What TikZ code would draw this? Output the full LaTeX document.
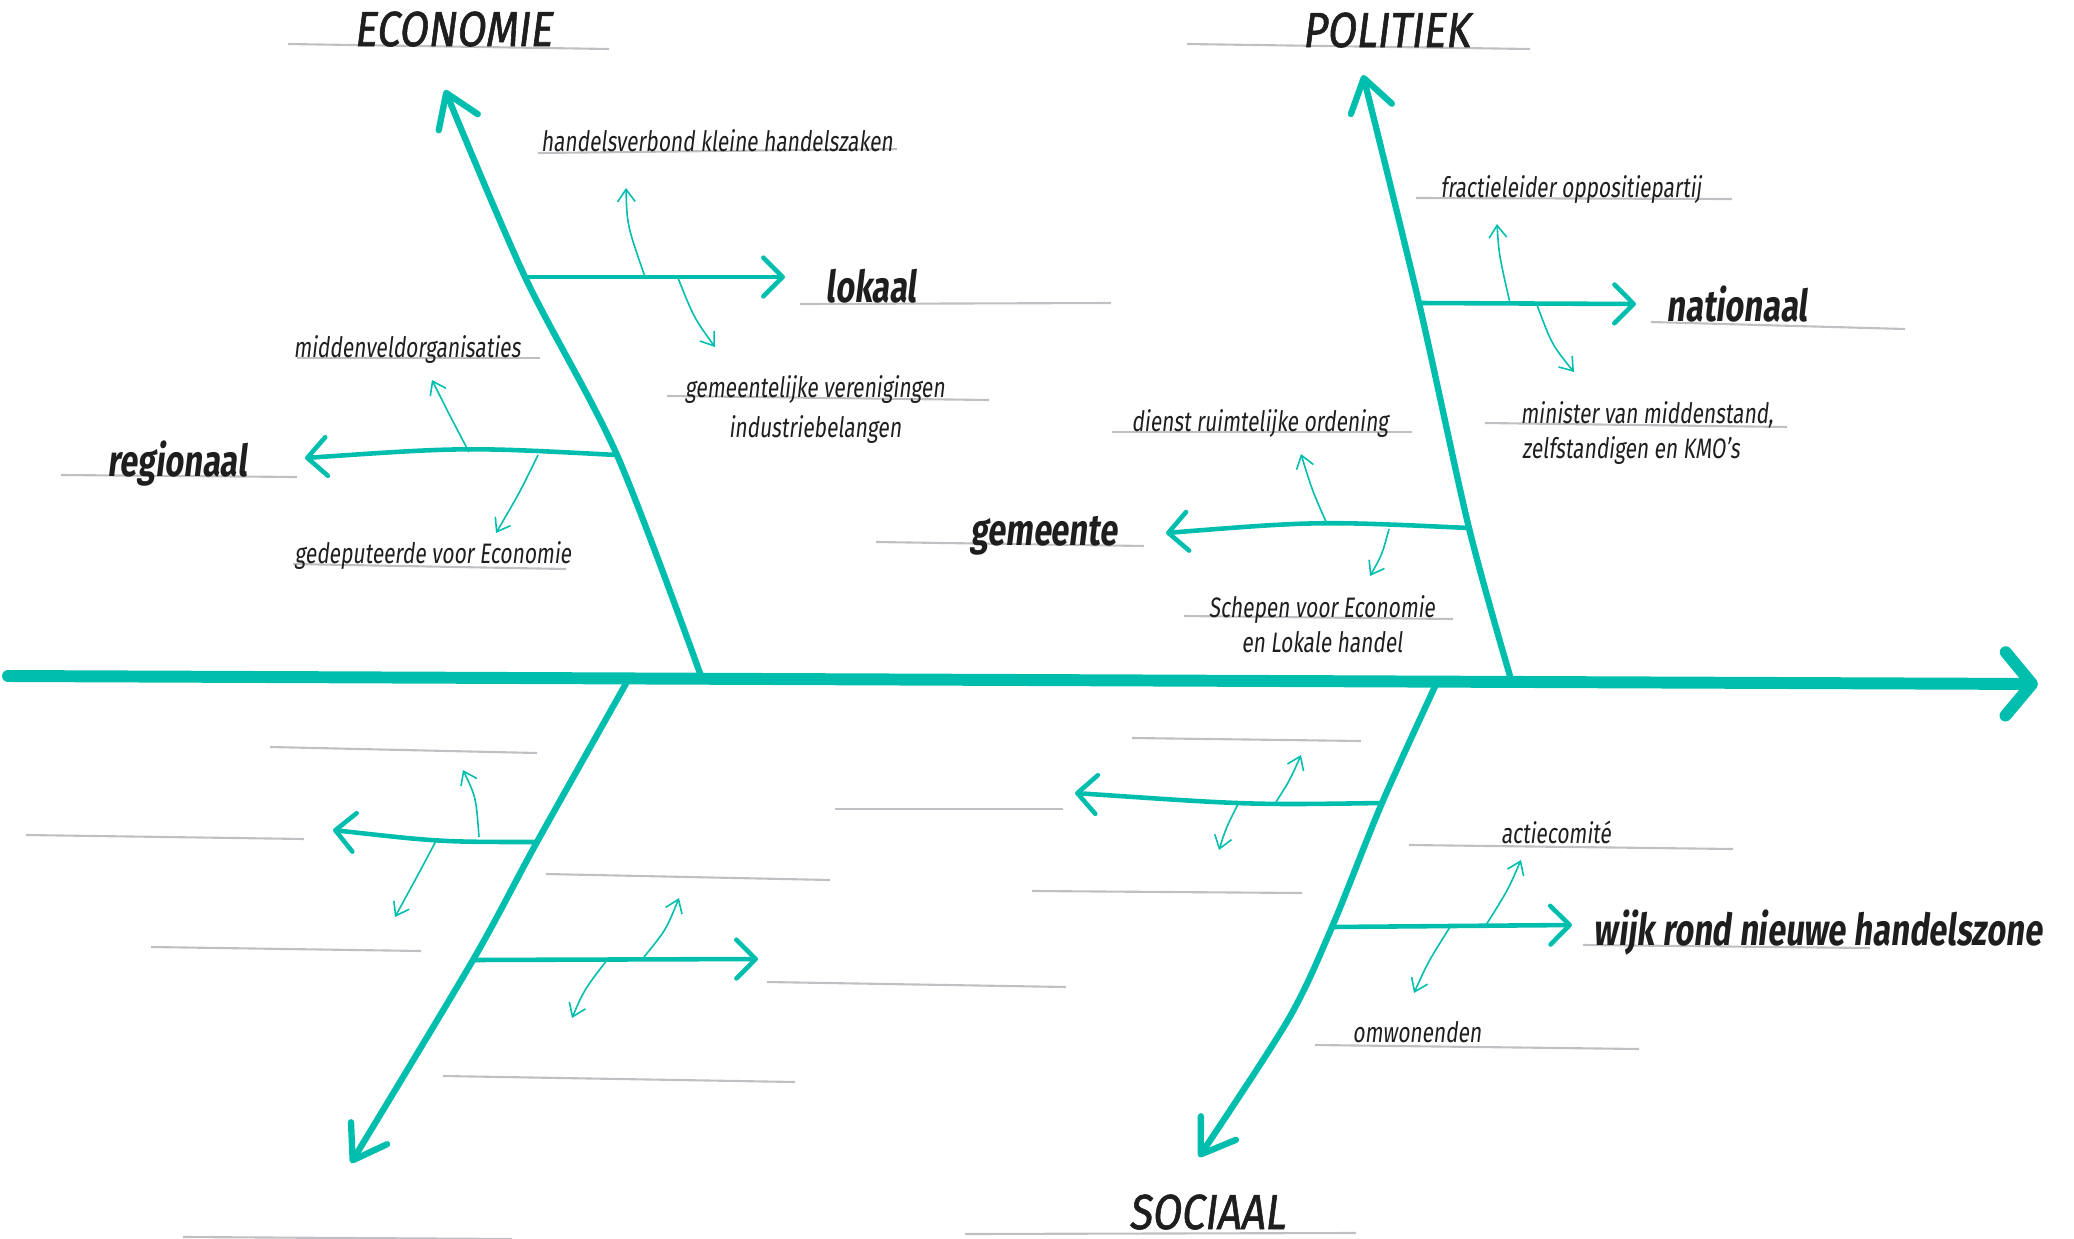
\documentclass[tikz,border=0pt]{standalone}
\usepackage{fontspec}
\usetikzlibrary{arrows.meta}

\newfontfamily\handfont[FakeStretch=0.74,FakeSlant=0.12]{Fira Sans}
\newfontfamily\headfont[FakeStretch=0.85,FakeSlant=0.13,FakeBold=1.2]{Fira Sans}

\definecolor{fishteal}{RGB}{0,190,174}
\definecolor{inkdark}{RGB}{30,30,30}
\definecolor{linegray}{RGB}{192,192,196}

\tikzset{
  spine/.style={draw=fishteal, line width=3.4pt, line cap=round,
    -{Straight Barb[round, length=7.5pt, width=18pt]}},
  bone/.style={draw=fishteal, line width=1.8pt, line cap=round,
    -{Straight Barb[round, length=9pt, width=12pt]}},
  rib/.style={draw=fishteal, line width=1.3pt, line cap=round,
    -{Straight Barb[round, length=5.5pt, width=11pt]}},
  twig/.style={draw=fishteal, line width=0.45pt,
    -{Straight Barb[length=3.5pt, width=5pt]}},
  ruling/.style={draw=linegray, line width=0.6pt},
  cat/.style={font=\headfont\fontsize{14}{14}\selectfont, text=inkdark, inner sep=0pt, anchor=base},
  side/.style={font=\handfont\bfseries\fontsize{12.5}{12.5}\selectfont, text=inkdark, inner sep=0pt, anchor=base},
  actor/.style={font=\handfont\fontsize{8}{8}\selectfont, text=inkdark, inner sep=0pt, anchor=base}
}

\begin{document}
\begin{tikzpicture}[x=0.01cm, y=-0.01cm]
  \useasboundingbox (0,0) rectangle (2074,1239);

  % writing lines
  \foreach \xa/\ya/\xb/\yb in {288/44/609/49, 1187/44/1530/49, 965/1234/1356/1233, 183/1237/512/1239,
      538/153/897/149, 297/358/540/358, 667/396/989/400, 800/304/1111/303,
      61/475/297/477, 293/564/566/569, 1416/198/1732/199, 1651/322/1905/329,
      1485/423/1787/427, 1112/432/1412/432, 876/542/1144/546, 1184/616/1453/619,
      1409/845/1733/849, 1583/945/1870/948, 1315/1045/1639/1049,
      270/747/537/753, 26/835/304/839, 546/874/830/880, 151/947/421/951,
      767/982/1066/987, 443/1076/795/1082,
      1132/738/1361/741, 835/809/1063/809, 1032/891/1302/893}{
    \draw[ruling] (\xa,\ya) -- (\xb,\yb);
  }

  % spine
  \coordinate (tail) at (8,676);
  \coordinate (head) at (2038,684);
  \draw[spine] (tail) -- (head);

  % bones
  \coordinate (eco-base) at (701,676);
  \coordinate (eco-reg) at (617,455);
  \coordinate (eco-lok) at (525,277);
  \coordinate (eco-tip) at (445,90);
  \draw[bone] plot[smooth, tension=0.5] coordinates {(eco-base) (eco-reg) (eco-lok) (eco-tip)};

  \coordinate (pol-base) at (1510,676);
  \coordinate (pol-gem) at (1469,528);
  \coordinate (pol-nat) at (1419,303);
  \coordinate (pol-tip) at (1363,75);
  \draw[bone] plot[smooth, tension=0.5] coordinates {(pol-base) (pol-gem) (pol-nat) (pol-tip)};

  \coordinate (bl-base) at (628,680);
  \coordinate (bl-up) at (537,842);
  \coordinate (bl-low) at (473,960);
  \coordinate (bl-tip) at (351,1163);
  \draw[bone] plot[smooth, tension=0.5] coordinates {(bl-base) (bl-up) (bl-low) (bl-tip)};

  \coordinate (soc-base) at (1438,680);
  \coordinate (soc-up) at (1382,803);
  \coordinate (soc-wijk) at (1332,927);
  \coordinate (soc-mid) at (1288,1020);
  \coordinate (soc-tip) at (1199,1157);
  \draw[bone] plot[smooth, tension=0.5] coordinates {(soc-base) (soc-up) (soc-wijk) (soc-mid) (soc-tip)};

  % ribs
  \coordinate (lok-tip) at (785,277);
  \coordinate (reg-tip) at (305,458);
  \coordinate (nat-tip) at (1636,304);
  \coordinate (gem-tip) at (1166,533);
  \coordinate (bl-up-tip) at (333,830);
  \coordinate (bl-low-tip) at (758,959);
  \coordinate (soc-up-tip) at (1075,793);
  \coordinate (wijk-tip) at (1572,925);
  \draw[rib] (eco-lok) -- (lok-tip);
  \draw[rib] (eco-reg) .. controls (465,447) .. (reg-tip);
  \draw[rib] (pol-nat) -- (nat-tip);
  \draw[rib] (pol-gem) .. controls (1317,521) .. (gem-tip);
  \draw[rib] (bl-up) .. controls (440,842) .. (bl-up-tip);
  \draw[rib] (bl-low) -- (bl-low-tip);
  \draw[rib] (soc-up) .. controls (1250,805) .. (soc-up-tip);
  \draw[rib] (soc-wijk) -- (wijk-tip);

  % small arrows
  \foreach \sx/\sy/\cx/\cy/\ex/\ey in {645/277/627/225/626/188, 678/278/694/318/715/347,
      469/452/449/414/432/380, 538/455/520/492/496/533,
      1510/303/1499/255/1497/224, 1537/305/1552/345/1574/372,
      1327/524/1312/490/1301/454, 1389/529/1382/555/1370/576,
      479/837/476/797/463/770, 437/839/419/873/395/917,
      644/957/666/930/679/898, 607/960/584/990/572/1018,
      1276/802/1290/780/1301/755, 1238/804/1226/828/1219/850,
      1486/925/1508/890/1521/860, 1450/927/1428/962/1414/993}{
    \draw[twig] (\sx,\sy) .. controls (\cx,\cy) .. (\ex,\ey);
  }

  % categories
  \node[cat] (economie) at (453,46) {ECONOMIE};
  \node[cat] (politiek) at (1386,47) {POLITIEK};
  \node[cat] (sociaal) at (1207,1229) {SOCIAAL};

  % sub causes
  \node[side] (lokaal) at (871,302) {lokaal};
  \node[side] (regionaal) at (177,476) {regionaal};
  \node[side] (nationaal) at (1737,321) {nationaal};
  \node[side] (gemeente) at (1044,545) {gemeente};
  \node[side] (wijk) at (1818,945) {wijk rond nieuwe handelszone};

  % actors
  \node[actor] (handelsverbond) at (717,151) {handelsverbond kleine handelszaken};
  \node[actor] (middenveld) at (407,357) {middenveldorganisaties};
  \node[actor] (verenigingen) at (815,397) {gemeentelijke verenigingen};
  \node[actor] (industrie) at (815,437) {industriebelangen};
  \node[actor] (gedeputeerde) at (433,563) {gedeputeerde voor Economie};
  \node[actor] (fractie) at (1571,197) {fractieleider oppositiepartij};
  \node[actor] (minister) at (1647,423) {minister van middenstand,};
  \node[actor] (kmo) at (1631,458) {zelfstandigen en KMO’s};
  \node[actor] (ruimtelijk) at (1260,431) {dienst ruimtelijke ordening};
  \node[actor] (schepen) at (1322,617) {Schepen voor Economie};
  \node[actor] (handel) at (1322,652) {en Lokale handel};
  \node[actor] (comite) at (1556,843) {actiecomité};
  \node[actor] (omwonenden) at (1417,1042) {omwonenden};
\end{tikzpicture}
\end{document}
